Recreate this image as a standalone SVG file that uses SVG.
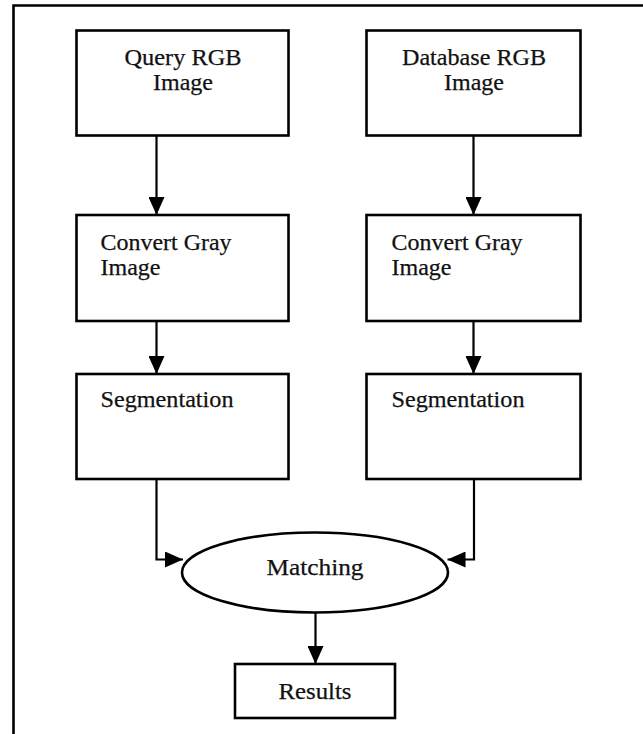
<svg xmlns="http://www.w3.org/2000/svg" width="643" height="734" viewBox="0 0 643 734">
<defs>
<style>
.box{fill:#ffffff;stroke:#000;stroke-width:2.6}
.lbl{font-family:"Liberation Serif","Times New Roman",serif;font-size:24px;fill:#111;stroke:#111;stroke-width:0.25}
.c{text-anchor:middle}
.conn{fill:none;stroke:#000;stroke-width:2.2}
</style>
<marker id="ah" viewBox="0 0 18 16" refX="18" refY="8" markerWidth="18" markerHeight="16" markerUnits="userSpaceOnUse" orient="auto">
<path d="M0,0 L18,8 L0,16 Z" fill="#000"/>
</marker>
</defs>
<rect x="0" y="0" width="643" height="734" fill="#ffffff"/>
<path d="M13.5,734 V5.5 H643" fill="none" stroke="#000" stroke-width="2.6"/>

<g id="query">
<rect class="box" x="76.5" y="30.5" width="212" height="105"/>
<text class="lbl c" x="183" y="65" textLength="117" lengthAdjust="spacingAndGlyphs">Query RGB</text>
<text class="lbl c" x="183" y="90" textLength="60" lengthAdjust="spacingAndGlyphs">Image</text>
</g>
<g id="database">
<rect class="box" x="366.5" y="30.5" width="214" height="105"/>
<text class="lbl c" x="474" y="65" textLength="144" lengthAdjust="spacingAndGlyphs">Database RGB</text>
<text class="lbl c" x="474" y="90" textLength="60" lengthAdjust="spacingAndGlyphs">Image</text>
</g>
<g id="gray-left">
<rect class="box" x="76.5" y="215" width="212" height="106"/>
<text class="lbl" x="100.5" y="249.5" textLength="131" lengthAdjust="spacingAndGlyphs">Convert Gray</text>
<text class="lbl" x="100.5" y="275" textLength="60" lengthAdjust="spacingAndGlyphs">Image</text>
</g>
<g id="gray-right">
<rect class="box" x="366.5" y="215" width="214" height="106"/>
<text class="lbl" x="391.5" y="249.5" textLength="131" lengthAdjust="spacingAndGlyphs">Convert Gray</text>
<text class="lbl" x="391.5" y="275" textLength="60" lengthAdjust="spacingAndGlyphs">Image</text>
</g>
<g id="seg-left">
<rect class="box" x="76.5" y="374" width="212" height="105"/>
<text class="lbl" x="100.5" y="407" textLength="133" lengthAdjust="spacingAndGlyphs">Segmentation</text>
</g>
<g id="seg-right">
<rect class="box" x="366.5" y="374" width="214" height="105"/>
<text class="lbl" x="391.5" y="407" textLength="133" lengthAdjust="spacingAndGlyphs">Segmentation</text>
</g>
<g id="matching">
<ellipse class="box" cx="315" cy="572.5" rx="133" ry="40"/>
<text class="lbl c" x="315" y="574.5" textLength="97" lengthAdjust="spacingAndGlyphs">Matching</text>
</g>
<g id="results">
<rect class="box" x="235" y="664" width="160" height="54"/>
<text class="lbl c" x="315" y="698.5" textLength="73" lengthAdjust="spacingAndGlyphs">Results</text>
</g>

<g id="connectors">
<path class="conn" d="M156.5,136 V215" marker-end="url(#ah)"/>
<path class="conn" d="M473.5,136 V215" marker-end="url(#ah)"/>
<path class="conn" d="M156.5,321 V374" marker-end="url(#ah)"/>
<path class="conn" d="M473.5,321 V374" marker-end="url(#ah)"/>
<path class="conn" d="M156.5,479 V559.5 H183" marker-end="url(#ah)"/>
<path class="conn" d="M474,479 V559.5 H447.5" marker-end="url(#ah)"/>
<path class="conn" d="M315.5,612.5 V664" marker-end="url(#ah)"/>
</g>
</svg>
